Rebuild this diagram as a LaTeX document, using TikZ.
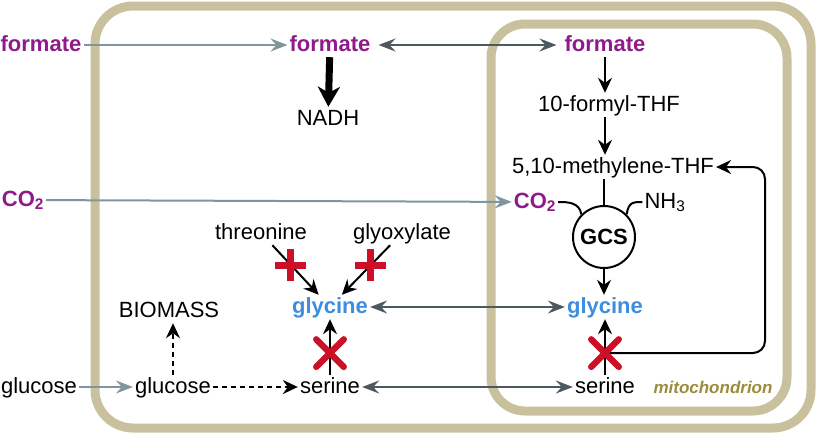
\documentclass[tikz,border=0pt]{standalone}
\usepackage{fontspec}
\setmainfont{Liberation Sans}
\usepackage{xcolor}
\usepackage{tikz}
\usetikzlibrary{arrows.meta, shapes.misc, calc}

\definecolor{formpurple}{RGB}{142,27,140}
\definecolor{glyblue}{RGB}{62,142,222}
\definecolor{inflowgray}{RGB}{128,150,158}
\definecolor{exchgray}{RGB}{76,90,96}
\definecolor{blockred}{RGB}{204,16,40}
\definecolor{membranetan}{RGB}{201,193,157}
\definecolor{mitotext}{RGB}{156,139,60}

\begin{document}
\begin{tikzpicture}[
    x=1pt, y=-1pt,
    every node/.style={font=\fontsize{22}{26}\selectfont, inner sep=2pt},
    chem/.style={text height=16pt, text depth=4pt},
    carbon/.style={chem, font=\fontsize{22}{26}\selectfont\bfseries, text=formpurple},
    glyc/.style={chem, font=\fontsize{22}{26}\selectfont\bfseries, text=glyblue},
    membrane/.style={draw=membranetan, line width=9pt, rounded corners=38pt},
    arrow/.style={-{Stealth[length=15pt, width=14pt, inset=5pt]}, line width=2pt},
    inflow/.style={-{Stealth[length=17pt, width=13pt, inset=6pt]}, line width=2pt, draw=inflowgray},
    exchange/.style={{Stealth[length=17pt, width=13pt, inset=6pt]}-{Stealth[length=17pt, width=13pt, inset=6pt]}, line width=2pt, draw=exchgray},
    maybe/.style={arrow, line width=2.3pt, dash pattern=on 5pt off 4pt},
    xmark/.style={cross out, draw=blockred, line width=6.5pt, line cap=round, minimum size=21pt, inner sep=0pt},
    plusmark/.style={cross out, draw=blockred, line width=7pt, minimum size=15pt, inner sep=0pt, rotate=45}
]
\useasboundingbox (0,0) rectangle (822,434);

% cell and mitochondrion
\draw[membrane] (95,6) rectangle (811,428);
\draw[membrane, rounded corners=34pt] (491,24) rectangle (787,411);

\node[carbon] (formout) at (41,45) {formate};
\node[carbon] (formcyt) at (330,45) {formate};
\node[carbon] (formmit) at (605,45) {formate};
\node[chem] (nadh) at (328,119) {NADH};
\node[chem] (formyl) at (609,105) {10-formyl-THF};
\node[chem] (mthf) at (613,167) {5,10-methylene-THF};
\node[carbon] (co2out) at (23,200) {CO\textsubscript{2}};
\node[carbon] (co2mit) at (535,202) {CO\textsubscript{2}};
\node[chem] (nh3) at (665,202) {NH\textsubscript{3}};
\node[circle, draw, line width=2pt, minimum size=62pt, inner sep=0pt, font=\fontsize{22}{26}\selectfont\bfseries] (gcs) at (604,237) {GCS};
\node[chem] (thr) at (261,233) {threonine};
\node[chem] (glyox) at (402,233) {glyoxylate};
\node[glyc] (glycyt) at (330,307) {glycine};
\node[glyc] (glymit) at (605,307) {glycine};
\node[chem] (biomass) at (169,311) {BIOMASS};
\node[chem] (glcout) at (39,387) {glucose};
\node[chem] (glccyt) at (173,387) {glucose};
\node[chem] (sercyt) at (330,387) {serine};
\node[chem] (sermit) at (605,387) {serine};
\node[font=\fontsize{17}{20}\selectfont\bfseries\itshape, text=mitotext] (mitolabel) at (713,387) {mitochondrion};

\coordinate (blockmit) at (605,353);
\coordinate (loopturn) at (765,167);

\draw[inflow] (formout) -- (formcyt);
\draw[exchange, shorten <=6pt, shorten >=6pt] (formcyt) -- (formmit);
\draw[-{Stealth[length=20pt, width=22pt, inset=6pt]}, line width=7pt] (formcyt) -- (nadh);
\draw[arrow] (formmit) -- (formmit |- formyl.north);
\draw[arrow] (formyl.south -| formmit) -- (formmit |- mthf.north);
\draw[line width=2pt] (mthf.south -| gcs) -- (gcs);
\draw[inflow] (co2out) -- (co2mit);
\draw[line width=2pt] (gcs.north west) .. controls +(-2,-12) and +(10,0) .. (co2mit.east);
\draw[line width=2pt] (gcs.north east) .. controls +(2,-12) and +(-10,0) .. (nh3.west);
\draw[arrow] (gcs) -- (gcs |- glymit.north);
\draw[exchange] (glycyt) -- (glymit);
\draw[exchange] (sercyt) -- (sermit);
\draw[inflow] (glcout) -- (glccyt);
\draw[maybe] (glccyt) -- (sercyt);
\draw[maybe] (glccyt) -- (glccyt |- biomass.south);

% blocked routes to glycine
\draw[arrow, rounded corners=12pt] (blockmit) -| (loopturn) -- (mthf);
\draw[arrow] (thr) -- node[plusmark, pos=0.4] (thrblock) {} (glycyt);
\draw[arrow] (glyox) -- node[plusmark, pos=0.4] (glyoxblock) {} (glycyt);
\draw[arrow] (sercyt) -- node[xmark, pos=0.39] (shmtcyt) {} (glycyt);
\draw[arrow] (sermit) -- node[xmark, pos=0.39] (shmtmit) {} (glymit);
\end{tikzpicture}
\end{document}
